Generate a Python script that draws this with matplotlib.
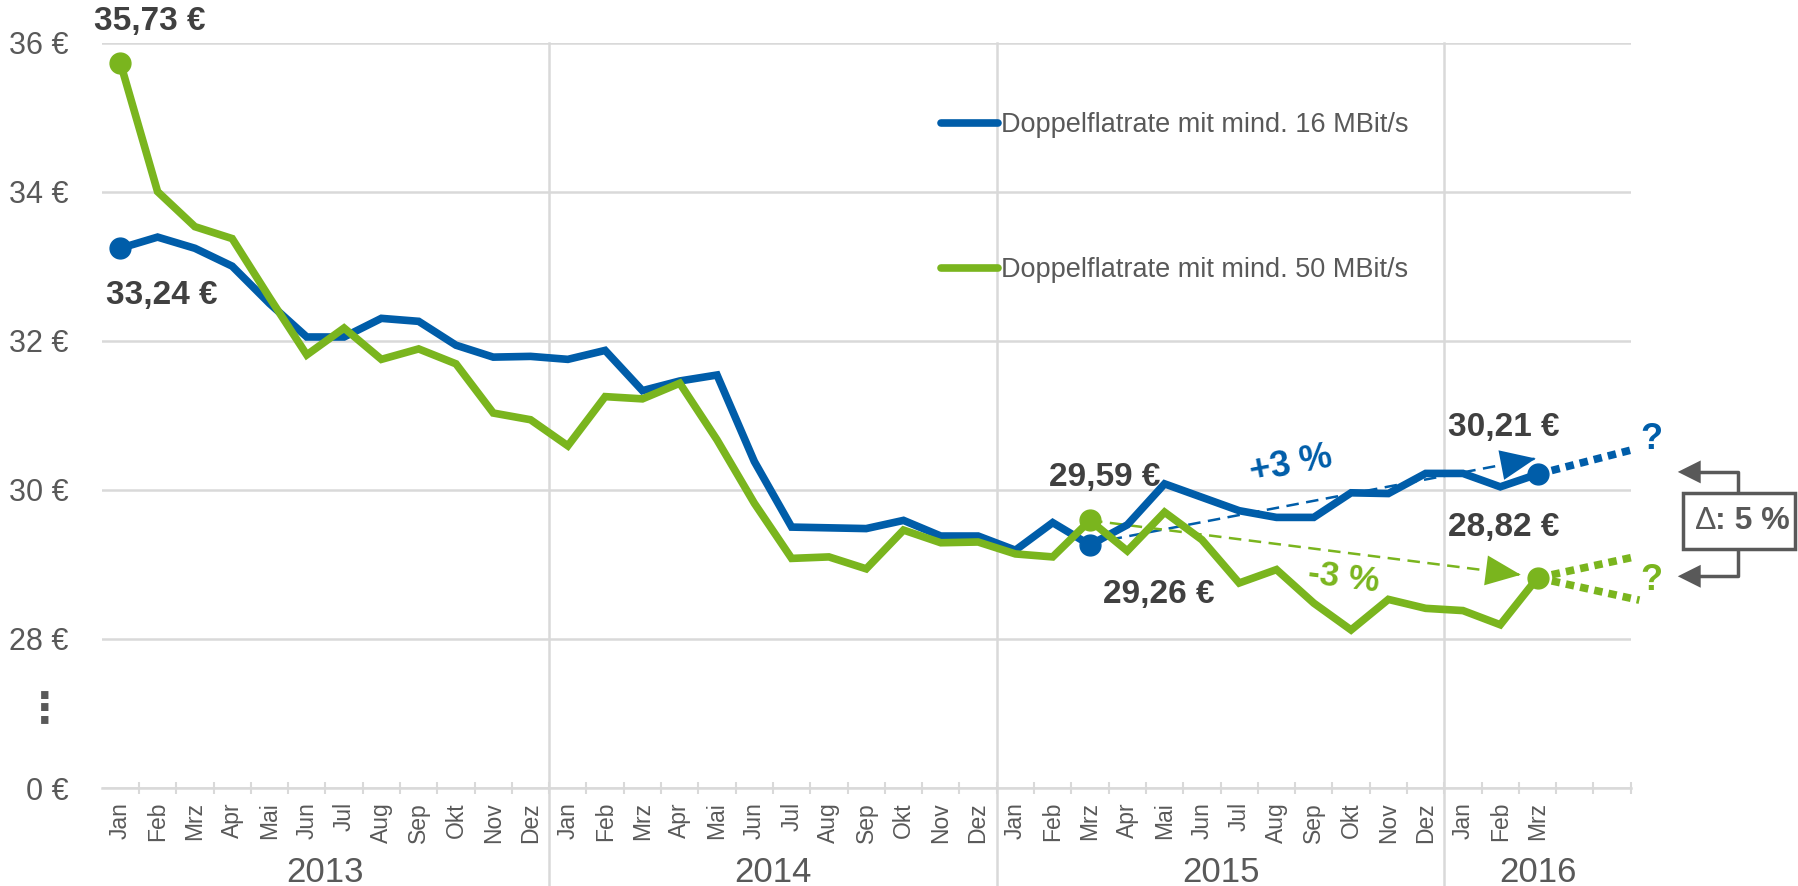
import numpy as np
import matplotlib
matplotlib.use("Agg")
import matplotlib.pyplot as plt
from matplotlib.patches import Rectangle
from matplotlib.lines import Line2D

plt.rcParams['font.family'] = ['Liberation Sans', 'DejaVu Sans']

# Daten: Monatspreise Jan 2013 - Mrz 2016
months = ['Jan', 'Feb', 'Mrz', 'Apr', 'Mai', 'Jun', 'Jul', 'Aug', 'Sep', 'Okt', 'Nov', 'Dez']
years = ['2013', '2014', '2015', '2016']
slots_per_year = [12, 12, 12, 5]   # 2016: Platz bis Mai fuer die Prognose
label_count = 39                   # beschriftet bis Mrz 2016

price_16 = [33.24, 33.39, 33.24, 33.00, 32.50, 32.05, 32.05, 32.30, 32.26, 31.94, 31.78, 31.79,
            31.75, 31.87, 31.33, 31.46, 31.54, 30.38, 29.50, 29.49, 29.48, 29.59, 29.38, 29.38,
            29.19, 29.56, 29.26, 29.53, 30.08, 29.90, 29.72, 29.63, 29.63, 29.96, 29.95, 30.22,
            30.22, 30.04, 30.21]
price_50 = [35.73, 34.00, 33.53, 33.37, 32.58, 31.81, 32.17, 31.75, 31.89, 31.69, 31.03, 30.94,
            30.59, 31.25, 31.22, 31.43, 30.67, 29.82, 29.08, 29.10, 28.94, 29.46, 29.29, 29.30,
            29.14, 29.10, 29.59, 29.18, 29.70, 29.33, 28.75, 28.93, 28.48, 28.12, 28.53, 28.41,
            28.38, 28.19, 28.82]
label_16 = 'Doppelflatrate mit mind. 16 MBit/s'
label_50 = 'Doppelflatrate mit mind. 50 MBit/s'

# markierte Punkte (Index)
marked = [0, 26, 38]

# Trendpfeile +3 % / -3 %
trend_x_16 = [26, 37.95]
trend_y_16 = [29.28, 30.42]
trend_x_50 = [26, 37.55]
trend_y_50 = [29.59, 28.86]

# gepunktete Prognose
proj_x_16 = [38, 40.48]
proj_y_16 = [30.21, 30.53]
proj_x_50_up = [38, 40.6]
proj_y_50_up = [28.82, 29.10]
proj_x_50_dn = [38, 40.73]
proj_y_50_dn = [28.82, 28.52]

blue = '#005DA9'
green = '#7AB51E'
grid_c = '#D9D9D9'
txt_c = '#404040'
tick_c = '#595959'

y_zero = 26   # Position von "0 €" (Achsenbruch)

fig = plt.figure(figsize=(17.99, 8.86), dpi=100)
ax = fig.add_axes([0.0565, 0.1106, 0.8500, 0.8414])
n_slots = sum(slots_per_year)
ax.set_xlim(-0.5, n_slots - 0.5)
ax.set_ylim(y_zero, 36)

x = np.arange(len(price_16))
ax.plot(x, price_16, color=blue, lw=5.5, solid_capstyle='round', solid_joinstyle='miter', zorder=4)
ax.plot(x, price_50, color=green, lw=5.5, solid_capstyle='round', solid_joinstyle='miter', zorder=5)
ax.plot(x[marked], np.array(price_16)[marked], 'o', color=blue, ms=15, zorder=6)
ax.plot(x[marked], np.array(price_50)[marked], 'o', color=green, ms=15, zorder=6)

# Trendlinien (gestrichelt) mit Pfeilspitze
for tx, ty, c in [(trend_x_16, trend_y_16, blue), (trend_x_50, trend_y_50, green)]:
    ax.plot(tx, ty, color=c, lw=1.8, dashes=(5, 3), zorder=3)
    fx = tx[1] - 0.6
    fy = ty[0] + (ty[1] - ty[0]) * (fx - tx[0]) / (tx[1] - tx[0])
    ax.annotate('', xy=(tx[1], ty[1]), xytext=(fx, fy),
                arrowprops=dict(arrowstyle='-|>,head_length=1.4,head_width=0.6', color=c,
                                lw=0, mutation_scale=18, shrinkA=0, shrinkB=0), zorder=3)

# Prognose gepunktet
for px, py, c in [(proj_x_16, proj_y_16, blue), (proj_x_50_up, proj_y_50_up, green),
                  (proj_x_50_dn, proj_y_50_dn, green)]:
    ax.plot(px, py, color=c, lw=5.5, dashes=(1.1, 0.8), dash_capstyle='butt', clip_on=False, zorder=4)

# Gitter und Achsen
ax.set_yticks([y_zero, 28, 30, 32, 34, 36])
ax.set_yticklabels(['0 €', '28 €', '30 €', '32 €', '34 €', '36 €'])
ax.yaxis.grid(True, color=grid_c, lw=1.8)
ax.set_axisbelow(True)
for s in ['left', 'right', 'top']:
    ax.spines[s].set_visible(False)
ax.spines['bottom'].set_color(grid_c)
ax.spines['bottom'].set_linewidth(1.8)
ax.tick_params(axis='y', length=0, pad=24, labelsize=22, labelcolor=tick_c)

month_labels = [months[i % 12] for i in range(label_count)] + [''] * (n_slots - label_count)
ax.set_xticks(np.arange(n_slots))
ax.set_xticklabels(month_labels, rotation=90, va='top', ha='center')
ax.tick_params(axis='x', which='major', length=0, pad=10, labelsize=16.5, labelcolor=tick_c)
ax.set_xticks(np.arange(0.5, n_slots), minor=True)
ax.tick_params(axis='x', which='minor', direction='inout', length=9, width=1.5, color=grid_c)

# Jahrestrenner und Jahreszahlen
bounds = np.cumsum(slots_per_year)
start = 0
for yr, n in zip(years, slots_per_year):
    ax.text(start + n / 2 - 0.5, 24.86, yr, ha='center', va='center', fontsize=25, color=tick_c)
    start += n
for b in bounds[:-1]:
    ax.plot([b - 0.5, b - 0.5], [36, 24.4], color=grid_c, lw=1.8, clip_on=False, zorder=0)

ax.text(-2.03, 27.05, '⋮', ha='center', va='center', fontsize=30, fontweight='bold',
        color=tick_c, family='DejaVu Sans')

# Wertbeschriftungen
bold = dict(fontsize=24, fontweight='bold', color=txt_c, ha='center', va='center')
ax.text(0.8, 36.28, '35,73 €', clip_on=False, **bold)
ax.text(1.1, 32.61, '33,24 €', **bold)
ax.text(26.4, 30.16, '29,59 €', **bold)
ax.text(27.84, 28.60, '29,26 €', **bold)
ax.text(37.1, 30.84, '30,21 €', **bold)
ax.text(37.1, 29.49, '28,82 €', **bold)

ax.text(31.4, 30.33, '+3 %', fontsize=26, fontweight='bold', color=blue, ha='center', va='center', rotation=11)
ax.text(32.8, 28.82, '-3 %', fontsize=25, fontweight='bold', color=green, ha='center', va='center', rotation=-7)
ax.text(41.05, 30.67, '?', fontsize=26, fontweight='bold', color=blue, ha='center', va='center')
ax.text(41.05, 28.79, '?', fontsize=26, fontweight='bold', color=green, ha='center', va='center')

# Delta-Box mit Klammerpfeilen
box_x, box_w = 41.9, 3.0
box_y0, box_y1 = 29.21, 29.96
box_cx = box_x + box_w / 2 - 0.02
ax.add_patch(Rectangle((box_x, box_y0), box_w, box_y1 - box_y0, facecolor='white',
                       edgecolor=tick_c, lw=2.5, clip_on=False, zorder=7))
ax.text(box_x + 0.33, (box_y0 + box_y1) / 2, 'Δ', fontsize=23, color=tick_c,
        ha='left', va='center', zorder=8)
ax.text(box_x + 0.85, (box_y0 + box_y1) / 2, ': 5 %', fontsize=23, fontweight='bold', color=tick_c,
        ha='left', va='center', zorder=8)
for yb, yl in [(box_y1, 30.24), (box_y0, 28.84)]:
    ax.plot([box_cx, box_cx, 42.0], [yb, yl, yl], color=tick_c, lw=2.5, clip_on=False, zorder=6)
    ax.annotate('', xy=(41.76, yl), xytext=(42.3, yl), annotation_clip=False,
                arrowprops=dict(arrowstyle='-|>,head_length=1.1,head_width=0.55', color=tick_c,
                                lw=0, mutation_scale=15, shrinkA=0, shrinkB=0), zorder=6)

# Legende
h16 = Line2D([], [], color=blue, lw=5.5, solid_capstyle='round')
h50 = Line2D([], [], color=green, lw=5.5, solid_capstyle='round')
ax.legend([h16, h50], [label_16, label_50], loc='upper left', bbox_to_anchor=(0.540, 0.925),
          frameon=False, fontsize=19.5, handlelength=2.1, handletextpad=0.1, labelspacing=4.4,
          borderpad=0, labelcolor=tick_c)

fig.savefig('out.png', dpi=100)
